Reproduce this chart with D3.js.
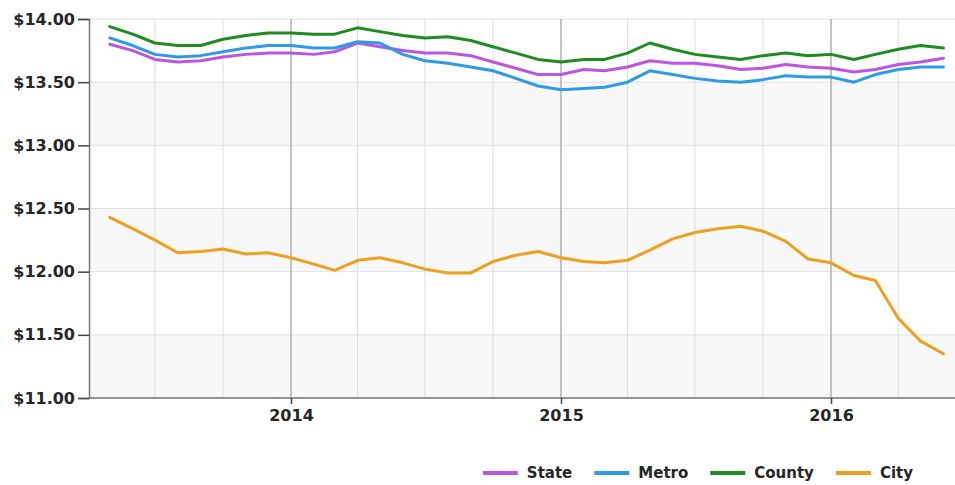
<!DOCTYPE html>
<html>
<head>
<meta charset="utf-8">
<script src="https://cdn.jsdelivr.net/npm/d3@7"></script>
<style>
  body { margin: 0; background: #fff; }
  svg text { font-family: "DejaVu Sans", sans-serif; font-weight: bold; fill: #262626; }
</style>
</head>
<body>
<svg class="plot" width="955" height="485"></svg>
<script>
// monthly values, May 2013 .. Jun 2016
var startMonth = new Date(2013, 4, 1)
var state = [13.80, 13.75, 13.68, 13.66, 13.67, 13.70, 13.72, 13.73, 13.73, 13.72, 13.74, 13.81, 13.78,
  13.75, 13.73, 13.73, 13.71, 13.66, 13.61, 13.56, 13.56, 13.60, 13.59, 13.62, 13.67, 13.65, 13.65,
  13.63, 13.60, 13.61, 13.64, 13.62, 13.61, 13.58, 13.60, 13.64, 13.66, 13.69]
var metro = [13.85, 13.79, 13.72, 13.70, 13.71, 13.74, 13.77, 13.79, 13.79, 13.77, 13.77, 13.82, 13.81,
  13.72, 13.67, 13.65, 13.62, 13.59, 13.53, 13.47, 13.44, 13.45, 13.46, 13.50, 13.59, 13.56, 13.53,
  13.51, 13.50, 13.52, 13.55, 13.54, 13.54, 13.50, 13.56, 13.60, 13.62, 13.62]
var county = [13.94, 13.88, 13.81, 13.79, 13.79, 13.84, 13.87, 13.89, 13.89, 13.88, 13.88, 13.93, 13.90,
  13.87, 13.85, 13.86, 13.83, 13.78, 13.73, 13.68, 13.66, 13.68, 13.68, 13.73, 13.81, 13.76, 13.72,
  13.70, 13.68, 13.71, 13.73, 13.71, 13.72, 13.68, 13.72, 13.76, 13.79, 13.77]
var city = [12.43, 12.34, 12.25, 12.15, 12.16, 12.18, 12.14, 12.15, 12.11, 12.06, 12.01, 12.09, 12.11,
  12.07, 12.02, 11.99, 11.99, 12.08, 12.13, 12.16, 12.11, 12.08, 12.07, 12.09, 12.17, 12.26, 12.31,
  12.34, 12.36, 12.32, 12.24, 12.10, 12.07, 11.97, 11.93, 11.63, 11.45, 11.35]

var seriesNames = ["State", "Metro", "County", "City"]
var seriesColors = ["#bb55e3", "#2e9be6", "#1f8c1f", "#f0a020"]
var yTicks = [11, 11.5, 12, 12.5, 13, 13.5, 14]

var allSeries = [state, metro, county, city]
var months = state.map((v, i) => d3.timeMonth.offset(startMonth, i))

var width = 955
var height = 485
var margin = { "top": 19, "right": 0, "bottom": 87, "left": 89 }
var chart_bottom = height - margin.bottom
var chart_right = width - margin.right

const svg = d3.select("svg.plot")

const xScale = d3.scaleTime()
  .domain([new Date(2014, 0, 1), new Date(2016, 0, 1)])
  .range([291, 831])
const yScale = d3.scaleLinear().domain([11, 14]).range([chart_bottom, margin.top])

// alternating bands
for (i = 0; i < yTicks.length - 1; i += 2) {
  svg.append("rect")
    .attr("x", margin.left)
    .attr("y", yScale(yTicks[i + 1]))
    .attr("width", chart_right - margin.left)
    .attr("height", yScale(yTicks[i]) - yScale(yTicks[i + 1]))
    .attr("fill", "#f8f8f8")
}

// horizontal gridlines
svg.append("g")
  .selectAll("line")
  .data(yTicks)
  .join("line")
  .attr("x1", margin.left)
  .attr("x2", chart_right)
  .attr("y1", d => yScale(d))
  .attr("y2", d => yScale(d))
  .attr("stroke", "#e0e0e0")

// vertical gridlines every quarter, darker at years
var quarters = d3.timeMonth.every(3).range(xScale.invert(margin.left), xScale.invert(chart_right))
svg.append("g")
  .selectAll("line")
  .data(quarters)
  .join("line")
  .attr("x1", d => xScale(d))
  .attr("x2", d => xScale(d))
  .attr("y1", margin.top)
  .attr("y2", chart_bottom)
  .attr("stroke", d => d.getMonth() == 0 ? "#b0b0b0" : "#dddddd")
  .attr("stroke-width", d => d.getMonth() == 0 ? 1.5 : 1)

// axes
let leftAxis = d3.axisLeft(yScale).tickValues(yTicks).tickSize(11).tickPadding(3)
  .tickFormat(d => "$" + d3.format(".2f")(d))
let bottomAxis = d3.axisBottom(xScale)
  .tickValues(d3.timeYear.range(xScale.invert(margin.left), xScale.invert(chart_right)))
  .tickSize(6).tickPadding(6)
  .tickFormat(d3.timeFormat("%Y"))

var yAxisG = svg.append("g")
  .attr("transform", "translate(" + margin.left + ",0)")
  .call(leftAxis)
var xAxisG = svg.append("g")
  .attr("transform", "translate(0," + chart_bottom + ")")
  .call(bottomAxis)
xAxisG.select(".domain").attr("d", "M" + margin.left + ",0H" + chart_right)
;[yAxisG, xAxisG].forEach(g => {
  g.select(".domain").attr("stroke", "#777").attr("stroke-width", 1.5)
  g.selectAll(".tick line").attr("stroke", "#444").attr("stroke-width", 1.5)
  g.selectAll(".tick text").style("font-size", "16px").attr("fill", "#262626")
})

// lines
var line = d3.line()
  .x((d, i) => xScale(months[i]))
  .y(d => yScale(d))
allSeries.forEach((s, k) => {
  svg.append("path")
    .datum(s)
    .attr("d", line)
    .attr("fill", "none")
    .attr("stroke", seriesColors[k])
    .attr("stroke-width", 3)
    .attr("stroke-linejoin", "round")
    .attr("stroke-linecap", "round")
})

// legend, right aligned
var legend = svg.append("g")
var legend_x = 0
seriesNames.forEach((name, k) => {
  var g = legend.append("g").attr("transform", "translate(" + legend_x + ",0)")
  g.append("line")
    .attr("x1", 0).attr("x2", 35)
    .attr("y1", 0).attr("y2", 0)
    .attr("stroke", seriesColors[k])
    .attr("stroke-width", 4)
  var t = g.append("text")
    .attr("x", 44)
    .attr("y", 5)
    .style("font-size", "15px")
    .text(name)
  legend_x = legend_x + 44 + t.node().getComputedTextLength() + 22
})
legend.attr("transform", "translate(" + (913 - (legend_x - 22)) + ",473)")
</script>
</body>
</html>
